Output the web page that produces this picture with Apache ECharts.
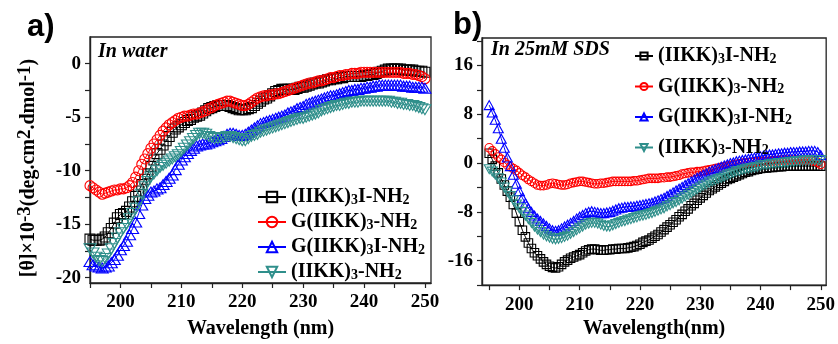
<!DOCTYPE html>
<html><head><meta charset="utf-8">
<script src="https://cdn.jsdelivr.net/npm/echarts@6/dist/echarts.min.js"></script>
<style>html,body{margin:0;padding:0;background:#fff}#c{width:838px;height:344px}</style>
</head><body><div id="c"></div>
<script>
// Wavelength sampling (nm)
const wavelength = [
195,195.5,196,196.5,197,197.5,198,198.5,199,199.5,
200,200.5,201,201.5,202,202.5,203,203.5,204,204.5,
205,205.5,206,206.5,207,207.5,208,208.5,209,209.5,
210,210.5,211,211.5,212,212.5,213,213.5,214,214.5,
215,215.5,216,216.5,217,217.5,218,218.5,219,219.5,
220,220.5,221,221.5,222,222.5,223,223.5,224,224.5,
225,225.5,226,226.5,227,227.5,228,228.5,229,229.5,
230,230.5,231,231.5,232,232.5,233,233.5,234,234.5,
235,235.5,236,236.5,237,237.5,238,238.5,239,239.5,
240,240.5,241,241.5,242,242.5,243,243.5,244,244.5,
245,245.5,246,246.5,247,247.5,248,248.5,249,249.5,
250];
const seriesNames = ['(IIKK)3I-NH2','G(IIKK)3-NH2','G(IIKK)3I-NH2','(IIKK)3-NH2'];

// Panel a) In water
const a_black = [
-16.4,-16.5,-16.5,-16.5,-16.4,-16.2,-15.8,-15.4,-14.9,-14.4,
-14.1,-14.0,-13.8,-13.4,-12.9,-12.4,-11.9,-11.3,-10.8,-10.3,
-9.6,-9.0,-8.4,-8.0,-7.6,-7.2,-6.8,-6.4,-6.1,-5.9,
-5.7,-5.5,-5.3,-5.2,-5.0,-4.9,-4.8,-4.6,-4.4,-4.2,
-4.1,-4.0,-3.9,-3.9,-3.9,-3.9,-4.0,-4.1,-4.2,-4.3,
-4.3,-4.3,-4.2,-4.1,-3.9,-3.7,-3.5,-3.3,-3.2,-3.0,
-2.8,-2.6,-2.5,-2.4,-2.4,-2.4,-2.4,-2.4,-2.3,-2.2,
-2.2,-2.1,-2.0,-1.9,-1.8,-1.8,-1.7,-1.6,-1.5,-1.5,
-1.4,-1.4,-1.3,-1.3,-1.2,-1.2,-1.2,-1.2,-1.2,-1.2,
-1.1,-1.1,-1.0,-1.0,-0.9,-0.8,-0.7,-0.6,-0.5,-0.5,
-0.5,-0.5,-0.5,-0.6,-0.6,-0.6,-0.6,-0.7,-0.7,-0.7,
-0.8];
const a_red = [
-11.4,-11.6,-11.8,-12.0,-12.2,-12.1,-12.0,-11.9,-11.8,-11.8,
-11.7,-11.7,-11.6,-11.4,-11.1,-10.6,-10.0,-9.4,-8.9,-8.4,
-7.9,-7.5,-7.1,-6.7,-6.3,-6.0,-5.7,-5.5,-5.3,-5.1,
-5.0,-4.9,-4.9,-4.8,-4.7,-4.7,-4.6,-4.5,-4.4,-4.2,
-4.1,-3.9,-3.8,-3.7,-3.6,-3.5,-3.5,-3.6,-3.7,-3.8,
-3.9,-3.9,-3.8,-3.6,-3.4,-3.2,-3.1,-3.0,-3.0,-2.9,
-2.9,-2.8,-2.8,-2.7,-2.6,-2.5,-2.4,-2.3,-2.2,-2.1,
-2.0,-1.9,-1.8,-1.8,-1.7,-1.6,-1.6,-1.5,-1.4,-1.3,
-1.3,-1.2,-1.1,-1.1,-1.0,-1.0,-0.9,-0.9,-0.9,-0.8,
-0.8,-0.8,-0.8,-0.8,-0.8,-0.8,-0.8,-0.8,-0.8,-0.8,
-0.8,-0.8,-0.8,-0.9,-0.9,-0.9,-1.0,-1.0,-1.1,-1.2,
-1.4];
const a_blue = [
-18.5,-18.8,-18.9,-19.0,-19.1,-19.0,-18.9,-18.6,-18.3,-17.9,
-17.4,-17.0,-16.6,-16.0,-15.4,-14.8,-14.0,-13.2,-12.6,-12.3,
-12.0,-11.9,-11.7,-11.6,-11.3,-11.0,-10.7,-10.4,-9.9,-9.4,
-9.0,-8.7,-8.4,-8.1,-7.9,-7.7,-7.6,-7.5,-7.5,-7.4,
-7.3,-7.2,-7.1,-7.0,-6.8,-6.6,-6.5,-6.5,-6.6,-6.7,
-6.7,-6.6,-6.4,-6.2,-6.0,-5.8,-5.6,-5.5,-5.4,-5.3,
-5.2,-5.1,-5.0,-4.9,-4.8,-4.6,-4.5,-4.4,-4.2,-4.1,
-4.0,-3.8,-3.7,-3.6,-3.5,-3.4,-3.3,-3.2,-3.1,-3.0,
-3.0,-2.9,-2.8,-2.7,-2.6,-2.5,-2.5,-2.4,-2.4,-2.3,
-2.3,-2.2,-2.2,-2.1,-2.1,-2.0,-2.0,-2.0,-2.0,-2.0,
-2.0,-2.0,-2.0,-2.1,-2.1,-2.1,-2.2,-2.2,-2.2,-2.2,
-2.3];
const a_teal = [
-17.3,-17.7,-18.1,-18.4,-18.5,-18.2,-17.8,-17.3,-16.8,-16.3,
-15.8,-15.4,-15.0,-14.5,-14.0,-13.5,-12.9,-12.2,-11.5,-11.0,
-10.6,-10.3,-10.0,-9.7,-9.5,-9.3,-9.1,-8.9,-8.7,-8.5,
-8.2,-7.9,-7.6,-7.3,-7.0,-6.7,-6.5,-6.5,-6.6,-6.8,
-6.9,-7.0,-7.0,-7.0,-6.9,-6.8,-6.8,-6.9,-7.0,-7.1,
-7.2,-7.2,-7.0,-6.8,-6.7,-6.6,-6.4,-6.3,-6.2,-6.1,
-6.0,-5.9,-5.8,-5.7,-5.6,-5.5,-5.4,-5.3,-5.2,-5.1,
-5.1,-5.0,-4.9,-4.8,-4.7,-4.6,-4.4,-4.3,-4.2,-4.1,
-4.0,-3.9,-3.9,-3.8,-3.7,-3.7,-3.6,-3.6,-3.6,-3.5,
-3.5,-3.5,-3.5,-3.5,-3.5,-3.5,-3.5,-3.5,-3.5,-3.6,
-3.6,-3.7,-3.7,-3.8,-3.8,-3.9,-3.9,-4.0,-4.1,-4.2,
-4.3];

// Panel b) In 25mM SDS
const b_black = [
1.6,0.6,-0.5,-1.6,-2.6,-3.6,-4.6,-5.6,-6.8,-8.2,
-9.6,-11.0,-12.1,-13.1,-14.0,-14.7,-15.2,-15.7,-16.2,-16.6,
-16.9,-17.1,-17.2,-17.0,-16.6,-16.2,-15.9,-15.6,-15.4,-15.2,
-15.0,-14.7,-14.4,-14.2,-14.1,-14.1,-14.2,-14.3,-14.3,-14.2,
-14.2,-14.1,-14.1,-14.0,-14.0,-14.0,-13.9,-13.8,-13.7,-13.5,
-13.3,-13.0,-12.8,-12.6,-12.3,-12.0,-11.7,-11.3,-10.9,-10.5,
-10.1,-9.7,-9.3,-8.8,-8.4,-7.9,-7.5,-7.0,-6.6,-6.1,
-5.7,-5.3,-4.9,-4.5,-4.2,-3.9,-3.6,-3.3,-3.0,-2.7,
-2.5,-2.3,-2.1,-1.9,-1.7,-1.5,-1.4,-1.2,-1.1,-1.0,
-0.9,-0.8,-0.8,-0.7,-0.7,-0.6,-0.6,-0.6,-0.5,-0.5,
-0.5,-0.5,-0.5,-0.5,-0.5,-0.5,-0.5,-0.5,-0.5,-0.5,
-0.5];
const b_red = [
2.5,2.0,1.5,1.0,0.6,0.1,-0.3,-0.6,-0.9,-1.2,
-1.6,-2.0,-2.3,-2.7,-3.0,-3.3,-3.6,-3.7,-3.7,-3.6,
-3.4,-3.3,-3.4,-3.5,-3.6,-3.6,-3.5,-3.3,-3.2,-3.1,
-3.0,-3.0,-3.1,-3.2,-3.3,-3.4,-3.4,-3.3,-3.3,-3.2,
-3.1,-3.0,-3.0,-3.0,-3.0,-3.0,-3.0,-3.0,-2.9,-2.9,
-2.8,-2.7,-2.6,-2.5,-2.5,-2.5,-2.5,-2.4,-2.4,-2.3,
-2.3,-2.2,-2.1,-2.0,-1.8,-1.7,-1.6,-1.5,-1.5,-1.4,
-1.4,-1.3,-1.2,-1.1,-1.0,-0.9,-0.8,-0.7,-0.6,-0.5,
-0.4,-0.3,-0.2,-0.1,0.0,0.0,0.1,0.1,0.2,0.2,
0.2,0.3,0.3,0.3,0.4,0.4,0.4,0.5,0.5,0.5,
0.5,0.5,0.5,0.5,0.5,0.5,0.5,0.4,0.3,0.1,
-0.2];
const b_blue = [
9.5,8.3,7.1,5.7,4.0,2.5,0.9,-0.5,-1.9,-3.4,
-4.6,-5.7,-6.6,-7.4,-8.0,-8.6,-9.1,-9.5,-9.9,-10.3,
-10.7,-11.0,-11.1,-11.0,-10.7,-10.4,-10.1,-9.8,-9.5,-9.1,
-8.8,-8.5,-8.2,-8.0,-7.9,-8.0,-8.1,-8.2,-8.2,-8.1,
-8.0,-7.8,-7.6,-7.4,-7.3,-7.2,-7.2,-7.1,-7.1,-7.0,
-6.9,-6.8,-6.7,-6.6,-6.5,-6.3,-6.1,-5.9,-5.7,-5.4,
-5.1,-4.8,-4.5,-4.2,-3.9,-3.6,-3.3,-3.0,-2.7,-2.4,
-2.2,-1.9,-1.7,-1.4,-1.2,-1.0,-0.8,-0.6,-0.4,-0.2,
0.0,0.1,0.3,0.4,0.5,0.6,0.7,0.8,0.9,1.0,
1.1,1.2,1.3,1.4,1.4,1.5,1.6,1.6,1.7,1.7,
1.8,1.8,1.8,1.9,1.9,1.9,2.0,2.0,2.0,1.8,
1.3];
const b_teal = [
-1.0,-1.4,-1.9,-2.5,-3.2,-4.0,-4.7,-5.4,-6.1,-6.8,
-7.4,-8.0,-8.6,-9.2,-9.8,-10.4,-10.9,-11.3,-11.7,-12.0,
-12.2,-12.4,-12.5,-12.4,-12.3,-12.1,-11.9,-11.6,-11.3,-11.0,
-10.7,-10.4,-10.1,-9.9,-9.8,-9.8,-9.9,-10.1,-10.3,-10.4,
-10.4,-10.2,-10.0,-9.8,-9.6,-9.5,-9.3,-9.2,-9.0,-8.9,
-8.7,-8.6,-8.5,-8.3,-8.2,-8.0,-7.8,-7.6,-7.4,-7.1,
-6.9,-6.6,-6.4,-6.1,-5.8,-5.5,-5.2,-4.9,-4.6,-4.3,
-4.0,-3.7,-3.5,-3.2,-3.0,-2.8,-2.6,-2.4,-2.2,-2.0,
-1.8,-1.6,-1.4,-1.3,-1.1,-1.0,-0.9,-0.8,-0.7,-0.6,
-0.4,-0.3,-0.3,-0.2,-0.1,-0.1,0.0,0.0,0.1,0.1,
0.2,0.2,0.3,0.3,0.4,0.4,0.4,0.5,0.5,0.5,
0.5];

// Axis ticks / labels
const a_xTicks = [195,200,205,210,215,220,225,230,235,240,245,250];
const a_xLabels = [200,210,220,230,240,250];
const a_yTicks = [-20,-17.5,-15,-12.5,-10,-7.5,-5,-2.5,0];
const a_yLabels = [-20,-15,-10,-5,0];
const b_xTicks = [195,200,205,210,215,220,225,230,235,240,245,250];
const b_xLabels = [200,210,220,230,240,250];
const b_yTicks = [-20,-16,-12,-8,-4,0,4,8,12,16,20];
const b_yLabels = [-16,-8,0,8,16];

const SERIF = 'Liberation Serif';
const COLORS = ['#000000','#ff0000','#0000ff','#2f8f8b'];
const DOWN_TRI = 'path://M0,0L10,0L5,9Z';
const UP_TRI = 'path://M5,0L10,9L0,9Z';
const SYMBOLS = ['rect','circle',UP_TRI,DOWN_TRI];

const ZWS = '\u200b';
function richName(n){
  return n.replace(ZWS,'').replace(/(\d)/g,'{s|$1}');
}

function mk(idx, data, grid, sizes){
  const c = COLORS[idx];
  return {
    type:'line',
    name: grid === 0 ? seriesNames[idx] : seriesNames[idx] + ZWS,
    xAxisIndex: grid, yAxisIndex: grid,
    data: wavelength.map((w,i)=>[w, data[i]]),
    symbol: SYMBOLS[idx],
    symbolSize: sizes[idx],
    showSymbol: true,
    showAllSymbol: true,
    lineStyle:{color:c, width:1},
    itemStyle:{color:'rgba(255,255,255,0)', borderColor:c, borderWidth:1.1},
    emphasis:{disabled:true},
    animation:false
  };
}
const sizeA = [10, 10, [12,10], [12,10]];
const sizeB = [8.5, 8.5, [10,9], [10,9]];

function xAxisCfg(grid, min, max, ticks, labels, name, gap){
  return {
    type:'value', gridIndex:grid, min:min, max:max,
    axisLine:{show:true, onZero:false, lineStyle:{color:'#222', width:1.4}},
    axisTick:{show:true, inside:false, length:5, customValues:ticks, lineStyle:{color:'#222', width:1.2}},
    axisLabel:{customValues:labels, margin:10, color:'#000', fontFamily:SERIF, fontWeight:'bold', fontSize:19},
    splitLine:{show:false},
    name:name, nameLocation:'middle', nameGap:gap,
    nameTextStyle:{color:'#000', fontFamily:SERIF, fontWeight:'bold', fontSize:20}
  };
}
function yAxisCfg(grid, min, max, ticks, labels){
  return {
    type:'value', gridIndex:grid, min:min, max:max,
    axisLine:{show:true, onZero:false, lineStyle:{color:'#222', width:1.4}},
    axisTick:{show:true, inside:false, length:5, customValues:ticks, lineStyle:{color:'#222', width:1.2}},
    axisLabel:{customValues:labels, margin:9, color:'#000', fontFamily:SERIF, fontWeight:'bold', fontSize:19},
    splitLine:{show:false}
  };
}

const legendText = (size, sub) => ({
  color:'#000', fontFamily:SERIF, fontWeight:'bold', fontSize:size, lineHeight:20,
  rich:{s:{color:'#000', fontFamily:SERIF, fontWeight:'bold', fontSize:sub, verticalAlign:'bottom', lineHeight:20}}
});

const chart = echarts.init(document.getElementById('c'), null, {renderer:'canvas'});
chart.setOption({
  backgroundColor:'#fff',
  animation:false,
  grid:[
    {left:90, top:37, width:341, height:250, show:true, borderColor:'#222', borderWidth:1.3, backgroundColor:'rgba(0,0,0,0)'},
    {left:482, top:38, width:348, height:257, show:true, borderColor:'#222', borderWidth:1.3, backgroundColor:'rgba(0,0,0,0)'}
  ],
  xAxis:[
    xAxisCfg(0, 195, 251, a_xTicks, a_xLabels, 'Wavelength (nm)', 36),
    xAxisCfg(1, 193.8, 250.9, b_xTicks, b_xLabels, 'Wavelength(nm)', 30)
  ],
  yAxis:[
    yAxisCfg(0, -20.5, 2.5, a_yTicks, a_yLabels),
    yAxisCfg(1, -20, 20.5, b_yTicks, b_yLabels)
  ],
  legend:[
    {orient:'vertical', left:252, top:182, itemWidth:28, itemHeight:13, itemGap:5,
     selectedMode:false, data:seriesNames, formatter:richName, textStyle:legendText(20,14)},
    {orient:'vertical', left:629, top:41, itemWidth:18, itemHeight:9, itemGap:10.5,
     selectedMode:false, data:seriesNames.map(n=>n+ZWS), formatter:richName, textStyle:legendText(20,14)}
  ],
  graphic:[
    {type:'text', left:27, top:12, style:{text:'a)', fill:'#000', font:'bold 31px "Liberation Sans"'}},
    {type:'text', left:453, top:10, style:{text:'b)', fill:'#000', font:'bold 31px "Liberation Sans"'}},
    {type:'text', left:98, top:42, style:{text:'In water', fill:'#000', font:'italic bold 20px "Liberation Serif"'}},
    {type:'text', left:491, top:40, style:{text:'In 25mM SDS', fill:'#000', font:'italic bold 20px "Liberation Serif"'}},
    {type:'text', x:29, y:168, rotation:Math.PI/2,
     style:{text:'[θ]×10{sup|-3}(deg.cm{sup|2}.dmol{sup|-1})', fill:'#000',
       font:'bold 20px "Liberation Serif"', lineHeight:26,
       align:'center', textAlign:'center', verticalAlign:'middle', textVerticalAlign:'middle',
       rich:{sup:{font:'bold 19px "Liberation Serif"', verticalAlign:'top', lineHeight:19, fill:'#000'}}}}
  ],
  series:[
    mk(0, a_black, 0, sizeA), mk(1, a_red, 0, sizeA), mk(2, a_blue, 0, sizeA), mk(3, a_teal, 0, sizeA),
    mk(0, b_black, 1, sizeB), mk(1, b_red, 1, sizeB), mk(2, b_blue, 1, sizeB), mk(3, b_teal, 1, sizeB)
  ]
});
</script>
</body></html>
